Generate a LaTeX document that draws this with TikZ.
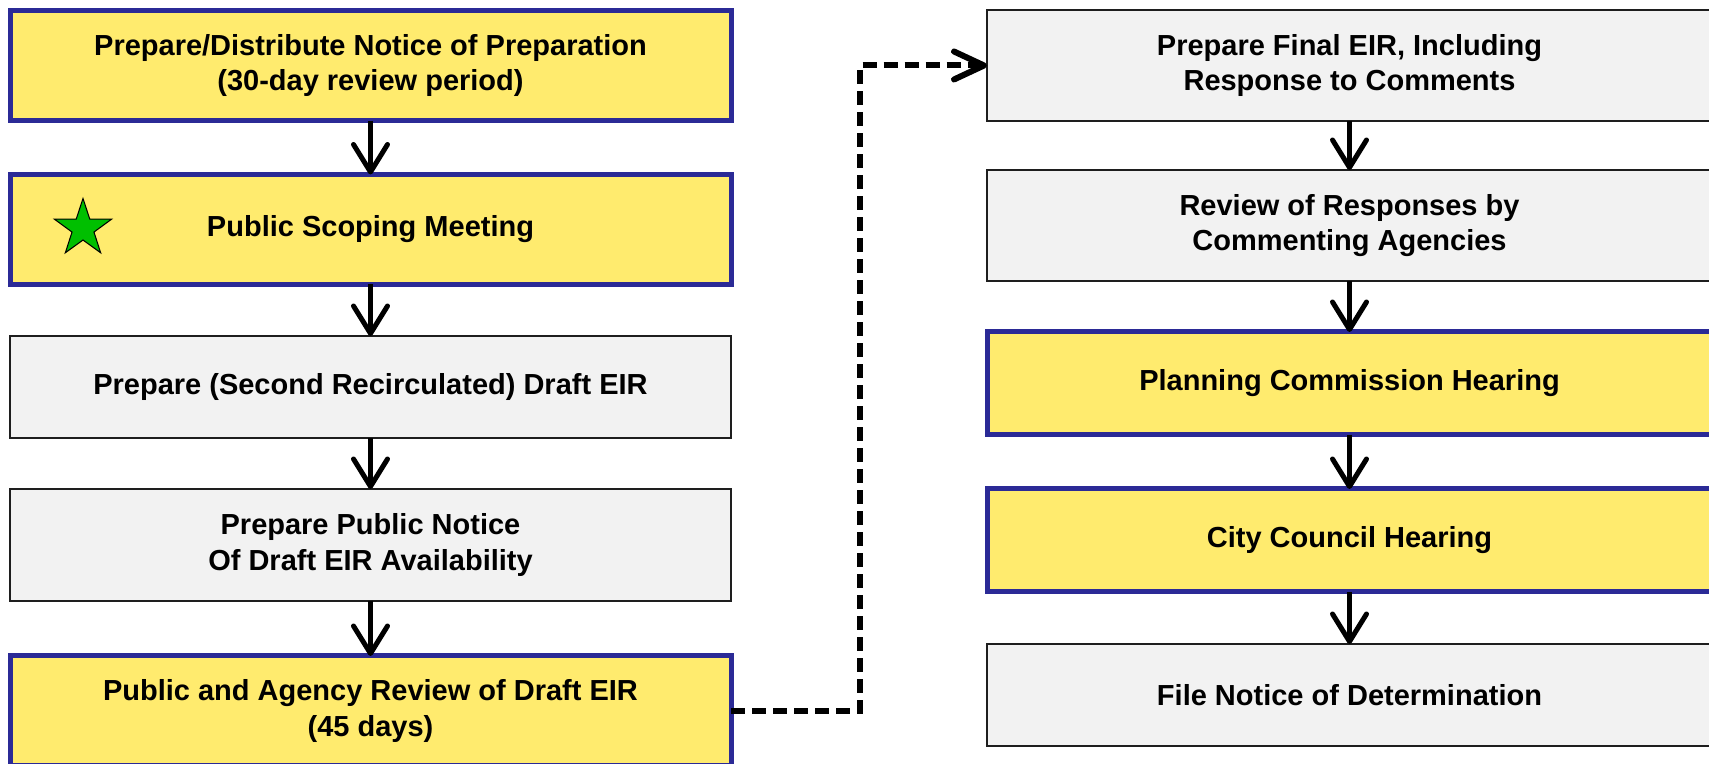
\documentclass[tikz,border=0pt]{standalone}
\usepackage{fontspec}
\setmainfont{Liberation Sans}
\usetikzlibrary{arrows.meta,shapes.geometric}
\definecolor{boxyellow}{HTML}{FFEB6E}
\definecolor{boxblue}{HTML}{2B2A96}
\definecolor{boxgray}{HTML}{F2F2F2}
\definecolor{boxline}{HTML}{1E1E1E}
\definecolor{stargreen}{HTML}{00BF00}
\begin{document}
\begin{tikzpicture}

\tikzset{myboxy/.style={rectangle,minimum width=14.42cm,inner sep=0pt,outer sep=0pt,draw=boxblue,line width=0.1cm,fill=boxyellow,align=center,font=\fontsize{16.5}{20}\selectfont\bfseries},}
\tikzset{myboxg/.style={rectangle,minimum width=14.42cm,inner sep=0pt,outer sep=0pt,draw=boxline,line width=0.04cm,fill=boxgray,align=center,font=\fontsize{16.5}{20}\selectfont\bfseries},}
\tikzset{myarrow/.style={-{Straight Barb[length=0.55cm,width=0.68cm,round]},line width=0.1cm},}
\tikzset{mydash/.style={-{Straight Barb[length=0.6cm,width=0.56cm,round]},line width=0.12cm,dash pattern=on 0.28cm off 0.14cm},}

  \useasboundingbox (0,0) rectangle (34.18,15.28);
  \clip (0,0) rectangle (34.18,15.28);

  % left column
  \draw (7.41,13.965) node[myboxy,minimum height=2.21cm](nop) {Prepare/Distribute Notice of Preparation\\(30-day review period)};
  \draw (7.41,10.69) node[myboxy,minimum height=2.20cm](scoping) {Public Scoping Meeting};
  \draw (1.66,10.71) node[star,star points=5,star point ratio=2.6,minimum size=1.2cm,inner sep=0pt,draw=black,line width=0.6pt,fill=stargreen](star) {};
  \draw (7.41,7.54) node[myboxg,minimum height=2.04cm](draft) {Prepare (Second Recirculated) Draft EIR};
  \draw (7.41,4.38) node[myboxg,minimum height=2.24cm](pubnotice) {Prepare Public Notice\\Of Draft EIR Availability};
  \draw (7.41,1.06) node[myboxy,minimum height=2.20cm](review) {Public and Agency Review of Draft EIR\\(45 days)};

  % right column (runs past the right edge)
  \draw (26.99,13.97) node[myboxg,minimum width=14.5cm,minimum height=2.22cm](final) {Prepare Final EIR, Including\\Response to Comments};
  \draw (26.99,10.77) node[myboxg,minimum width=14.5cm,minimum height=2.22cm](responses) {Review of Responses by\\Commenting Agencies};
  \draw (26.99,7.61) node[myboxy,minimum width=14.5cm,minimum height=2.06cm](planning) {Planning Commission Hearing};
  \draw (26.99,4.47) node[myboxy,minimum width=14.5cm,minimum height=2.06cm](council) {City Council Hearing};
  \draw (26.99,1.38) node[myboxg,minimum width=14.5cm,minimum height=2.04cm](nod) {File Notice of Determination};

  \coordinate (turn) at (17.2,1.06);

  %edges
    \draw[myarrow] (nop) -- (scoping);
    \draw[myarrow] (scoping) -- (draft);
    \draw[myarrow] (draft) -- (pubnotice);
    \draw[myarrow] (pubnotice) -- (review);

    \draw[mydash] (review.east) -- (turn) |- (final.west);

    \draw[myarrow] (final) -- (responses);
    \draw[myarrow] (responses) -- (planning);
    \draw[myarrow] (planning) -- (council);
    \draw[myarrow] (council) -- (nod);

\end{tikzpicture}
\end{document}
